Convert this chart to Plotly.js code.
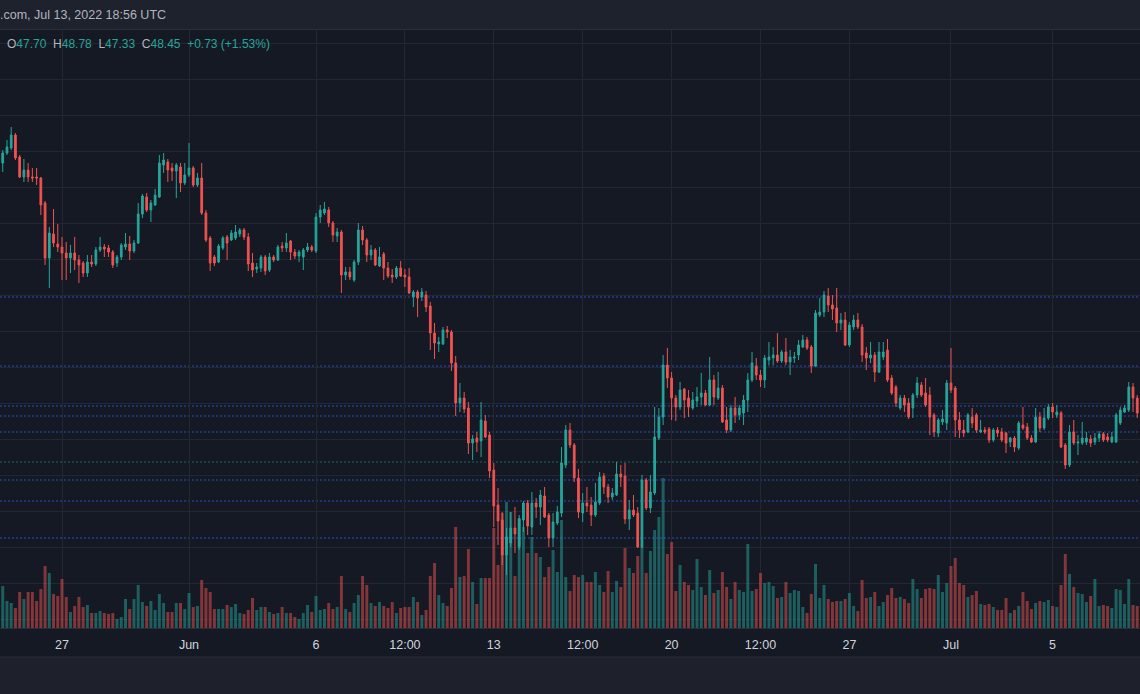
<!DOCTYPE html>
<html>
<head>
<meta charset="utf-8">
<script src="https://cdn.plot.ly/plotly-3.0.1.min.js"></script>
<style>
html,body{margin:0;padding:0;background:#151924;overflow:hidden;}
#chart{width:1140px;height:694px;}
</style>
</head>
<body>
<div id="chart"></div>
<script>
// ---- data (4-hour candles) ----
const startTime = '2022-05-24T12:00:00Z';
const stepHours = 4;

const open = [
84.5,83.7,84.7,85.2,86.5,84.3,82.3,83.0,82.3,82.3,
82.2,79.7,74.2,76.6,75.6,75.3,74.7,74.2,74.7,74.0,
73.7,72.7,73.8,73.6,75.0,75.3,75.2,74.8,73.7,74.3,
75.3,75.6,74.9,75.7,78.6,80.3,79.0,79.5,80.3,83.5,
83.8,83.2,82.9,83.3,81.7,82.5,83.2,81.5,82.2,78.7,
76.2,74.3,73.8,75.2,76.3,76.0,76.2,76.6,77.0,76.3,
73.7,73.1,73.2,74.3,73.0,74.3,74.0,75.4,75.2,75.9,
74.8,74.4,74.3,75.0,75.3,74.9,78.3,78.7,79.0,77.7,
76.4,76.8,72.5,72.8,72.0,73.8,77.0,76.0,74.5,75.0,
73.4,74.6,73.2,72.5,72.3,73.2,72.5,72.3,70.3,70.8,
70.3,70.5,69.4,66.7,65.6,65.6,67.0,66.8,63.7,59.7,
60.2,59.2,55.7,56.2,55.9,57.9,56.5,53.0,49.5,48.0,
44.5,45.7,47.2,45.3,48.0,49.7,47.3,49.7,49.3,50.4,
48.5,46.2,47.7,48.7,53.5,57.0,55.5,52.2,48.7,49.7,
49.5,48.5,49.7,52.4,51.3,50.3,50.5,52.6,52.4,48.1,
49.0,48.7,45.3,52.0,49.2,50.7,56.2,58.3,63.5,62.2,
60.2,59.3,61.1,60.2,59.2,59.9,60.3,60.7,59.5,62.0,
60.2,61.2,58.0,57.0,59.2,58.5,58.7,60.0,62.0,63.4,
62.5,62.0,64.0,64.2,64.5,63.9,64.8,63.8,64.2,64.5,
65.3,66.0,65.3,63.4,68.5,68.8,70.4,69.5,69.2,67.7,
68.0,65.5,67.3,68.0,67.3,64.7,64.2,64.5,62.8,64.3,
65.0,62.2,61.3,59.2,60.2,59.7,59.2,60.5,61.5,60.7,
60.5,58.5,56.7,57.8,57.7,61.7,61.2,58.0,57.0,56.8,
58.3,58.5,56.8,57.0,57.1,56.0,57.0,56.8,56.7,55.8,
56.2,55.2,57.5,57.3,56.2,55.8,58.3,57.2,58.2,59.3,
58.5,58.7,55.5,53.5,56.8,55.7,55.7,55.8,56.1,55.8,
56.2,56.6,56.3,55.8,55.8,57.7,58.8,59.0,61.3,60.2,
57.3];

const high = [
84.8,85.0,86.0,87.3,86.7,84.5,84.1,83.7,83.2,83.2,
82.3,79.9,77.3,79.1,77.6,76.3,75.8,75.5,76.3,74.5,
73.9,74.5,74.5,75.3,76.3,75.6,75.5,75.0,74.5,75.7,
76.7,76.4,76.0,79.7,80.6,80.7,80.0,81.1,84.5,84.7,
84.1,83.7,83.7,83.7,83.7,85.7,83.4,82.7,83.7,79.0,
76.4,74.5,75.6,76.4,76.5,77.0,77.5,77.2,77.2,76.7,
74.7,73.7,74.5,74.5,74.7,74.5,75.5,75.8,76.7,76.0,
75.1,75.0,75.2,75.7,75.5,78.7,79.5,79.8,79.3,77.9,
77.2,77.0,73.3,73.3,74.0,77.7,77.4,76.2,75.5,75.2,
75.3,74.8,73.8,73.1,73.4,73.9,73.1,73.2,71.0,71.0,
71.2,70.9,69.8,67.7,66.3,67.3,67.4,67.0,64.4,61.7,
60.8,59.8,56.5,56.8,59.8,58.5,56.8,53.7,51.2,48.8,
47.2,48.8,49.3,48.5,49.9,50.0,50.8,50.2,51.0,51.3,
48.7,48.7,49.4,55.3,57.5,57.7,55.7,53.1,50.7,51.3,
50.3,51.7,52.8,52.7,51.6,51.2,53.8,53.5,53.7,50.0,
50.5,49.3,52.5,52.2,52.5,59.3,59.2,64.5,65.2,62.8,
60.5,61.8,61.2,61.0,60.8,61.3,62.7,61.0,64.3,62.5,
62.8,61.5,59.3,59.5,60.3,59.5,60.5,62.7,64.8,64.2,
63.0,64.5,65.8,65.3,66.7,65.0,66.2,65.0,64.8,66.0,
66.5,66.3,65.5,69.0,70.2,70.9,71.2,70.5,71.2,68.7,
68.8,67.8,68.5,68.7,67.6,65.3,65.8,64.8,65.8,65.8,
66.1,62.5,61.5,60.5,60.5,60.2,60.7,62.3,61.8,62.2,
61.3,58.7,58.2,59.0,62.0,65.2,61.4,58.8,58.0,58.7,
59.2,58.7,58.0,57.3,57.3,57.2,57.3,57.2,56.8,56.3,
56.4,57.9,59.3,57.7,56.5,59.2,58.8,59.2,59.6,59.7,
59.5,58.9,55.7,57.5,58.0,56.5,57.8,56.8,56.5,56.7,
56.9,56.8,56.7,56.8,58.7,59.3,59.5,61.8,61.7,60.5,
59.7];

const low = [
83.5,82.8,84.5,85.0,84.0,82.2,81.8,81.8,81.8,81.5,
78.5,73.5,71.2,75.3,74.8,72.0,72.0,72.7,73.0,71.7,
72.3,72.3,73.3,73.4,74.8,74.3,74.3,73.2,73.3,74.0,
75.0,74.0,74.7,75.6,78.2,78.8,77.8,79.4,80.2,82.7,
81.8,81.9,80.2,80.8,81.5,82.3,81.3,81.3,78.5,75.8,
72.9,73.4,73.7,75.0,74.0,75.9,76.0,76.3,76.0,72.9,
72.3,72.7,72.8,72.5,72.8,73.8,73.9,74.8,74.8,74.0,
74.1,73.8,73.0,74.8,74.8,74.7,77.7,78.5,77.3,75.8,
75.8,70.7,72.0,72.0,71.8,73.5,75.5,73.8,74.0,73.4,
73.3,72.0,72.2,71.7,72.1,72.3,71.3,70.6,69.3,68.3,
69.9,68.8,65.0,64.1,64.8,65.5,66.2,62.9,58.4,58.8,
58.7,54.6,54.0,54.8,54.3,56.2,52.2,47.3,45.5,43.5,
42.5,45.3,44.7,45.0,46.8,46.5,46.5,48.2,47.5,48.2,
45.3,45.3,47.5,48.3,53.2,55.2,51.8,48.2,47.8,48.8,
47.4,48.3,49.5,50.6,49.7,50.0,50.4,51.3,47.6,47.0,
48.3,45.2,45.2,49.0,48.7,50.5,56.0,57.5,61.2,58.0,
57.9,59.0,58.2,58.3,59.0,59.3,59.5,59.4,59.4,59.5,
60.0,57.7,56.7,56.8,57.7,58.0,57.5,58.8,61.8,62.0,
61.3,61.2,63.5,63.5,63.7,63.7,63.5,62.5,63.7,64.0,
65.2,65.0,62.7,63.3,68.3,68.3,68.8,68.0,66.8,67.0,
65.4,65.3,67.0,67.1,63.8,63.0,63.7,61.8,62.7,64.0,
61.8,60.5,59.3,59.0,58.8,58.1,58.2,60.2,60.3,59.3,
56.5,56.3,56.3,57.5,57.0,60.7,56.3,56.2,56.3,56.7,
57.2,56.7,56.7,56.6,55.7,55.8,56.3,55.8,54.7,55.3,
54.8,55.0,57.0,56.0,55.7,55.7,56.8,57.0,58.0,58.2,
58.2,55.2,53.1,53.3,55.5,54.5,55.5,55.5,55.3,55.5,
55.8,55.8,55.8,55.7,55.7,57.5,58.7,58.8,58.8,58.2,
57.2];

const close = [
83.8,84.7,85.3,86.5,84.2,82.3,83.0,82.3,82.2,82.2,
79.5,74.2,76.7,75.7,75.3,74.7,74.2,74.7,74.0,73.5,
72.7,73.8,73.6,75.0,75.3,75.1,74.8,73.5,74.3,75.5,
75.6,74.9,75.7,78.6,80.4,79.0,79.7,80.5,83.7,84.0,
83.0,82.9,83.5,81.7,82.5,83.2,81.5,82.2,78.7,76.0,
73.7,73.7,75.4,76.2,75.7,76.7,76.8,77.0,76.3,73.6,
73.0,73.3,74.3,72.9,74.3,74.0,75.3,75.2,75.7,74.8,
74.4,74.8,75.0,75.3,75.0,78.3,79.0,79.1,77.7,76.5,
76.8,72.5,72.8,72.3,73.8,77.0,76.0,74.5,75.0,73.5,
74.3,73.2,72.4,72.3,73.2,72.4,72.3,70.7,70.8,70.2,
70.8,69.3,66.7,65.7,65.8,67.0,66.8,63.7,59.7,60.2,
59.1,55.7,56.1,55.8,58.0,56.3,52.9,49.4,47.9,44.5,
46.3,47.2,46.6,48.1,49.7,47.4,49.7,49.3,50.5,48.3,
46.2,47.8,48.8,53.7,57.0,55.5,52.2,48.8,49.7,49.4,
48.5,49.8,52.3,51.3,50.3,50.7,52.6,52.3,48.1,49.0,
48.5,45.3,52.0,49.2,50.8,56.3,58.3,63.5,62.2,60.2,
59.3,61.0,60.0,59.3,60.0,60.3,60.7,59.5,62.0,60.3,
61.2,57.8,57.0,59.2,58.5,59.2,60.0,62.0,63.7,62.5,
62.0,64.2,64.3,64.5,63.9,64.8,63.8,64.3,64.3,65.5,
66.0,65.2,63.4,68.7,68.8,70.5,69.5,69.1,67.7,68.0,
65.5,67.5,68.0,67.3,64.5,64.2,64.5,62.8,64.8,64.8,
62.0,60.7,59.7,60.2,59.5,58.3,60.5,61.7,60.5,59.5,
58.3,56.8,58.0,58.1,61.7,61.0,58.0,57.0,56.7,58.5,
57.7,57.0,57.0,56.8,56.0,57.0,56.7,56.0,55.7,56.2,
55.3,57.7,57.2,56.2,55.8,58.3,57.2,58.2,59.3,58.8,
58.8,55.3,53.5,56.8,55.7,55.8,56.2,56.2,55.7,56.2,
56.6,56.0,56.0,56.3,58.5,59.0,59.2,61.3,60.2,58.7,
59.5];

const volume = [
71,42,27,25,20,36,29,36,36,27,
39,62,55,34,32,49,31,16,22,31,
21,23,15,15,17,15,14,15,9,11,
29,19,29,43,26,22,27,18,34,25,
16,16,25,25,19,35,21,22,48,40,
36,19,19,19,23,21,24,15,14,18,
30,18,21,21,16,14,15,21,15,15,
11,9,15,23,16,32,18,19,25,19,
21,52,19,16,25,33,52,43,25,22,
26,22,20,26,15,20,21,21,31,26,
13,18,52,65,33,25,22,40,101,51,
52,79,46,24,50,50,50,100,63,115,
126,116,52,110,101,75,91,75,71,51,
61,78,56,108,51,37,53,51,53,46,
46,56,43,36,57,36,47,41,80,60,
55,72,81,55,77,98,111,150,74,86,
37,63,46,43,38,69,41,33,58,35,
38,56,41,29,46,38,36,84,37,39,
55,45,46,42,30,31,46,35,38,37,
21,15,34,64,30,43,29,26,27,27,
29,35,22,17,48,30,31,36,22,26,
33,40,30,31,29,25,49,39,30,39,
40,39,53,36,45,62,70,45,43,31,
33,37,24,23,24,21,18,18,30,15,
18,22,36,27,19,25,27,26,28,22,
21,43,74,54,41,35,34,26,32,49,
22,23,22,20,39,38,24,49,23,22,
32];

const tickDates = ['2022-05-27','2022-06-01','2022-06-06','2022-06-09 12:00','2022-06-13',
  '2022-06-16 12:00','2022-06-20','2022-06-23 12:00','2022-06-27','2022-07-01','2022-07-05'];
const tickLabels = ['27','Jun','6','12:00','13','12:00','20','12:00','27','Jul','5'];

const blueLevels = [70.3, 63.4, 59.4, 58.4, 56.8, 52.0, 49.9, 46.2];
const tealLevels = [53.8];

const headerText = '.com, Jul 13, 2022 18:56 UTC';
const lastO = '47.70', lastH = '48.78', lastL = '47.33', lastC = '48.45';
const lastChange = '+0.73 (+1.53%)';

// ---- build ----
const t0 = Date.parse(startTime);
function fmt(ms){
  const d = new Date(ms);
  const p = n => String(n).padStart(2,'0');
  return d.getUTCFullYear()+'-'+p(d.getUTCMonth()+1)+'-'+p(d.getUTCDate())+' '+p(d.getUTCHours())+':'+p(d.getUTCMinutes());
}
const times = open.map((_, i) => fmt(t0 + i * stepHours * 3600000));
const volColors = close.map((c, i) => c >= open[i] ? 'rgba(38,166,154,0.5)' : 'rgba(239,83,80,0.5)');

const UP = '#26a69a', DOWN = '#ef5350';
const PLOT_H = 598;

const volTrace = {
  type: 'bar', x: times, y: volume, xaxis: 'x', yaxis: 'y',
  marker: {color: volColors, line: {width: 0}}, hoverinfo: 'skip'
};
const candleTrace = {
  type: 'candlestick', x: times, open: open, high: high, low: low, close: close,
  xaxis: 'x', yaxis: 'y2',
  increasing: {line: {color: UP, width: 1}, fillcolor: UP},
  decreasing: {line: {color: DOWN, width: 1}, fillcolor: DOWN},
  whiskerwidth: 0, hoverinfo: 'skip'
};

const shapes = [];
// header strip
shapes.push({type:'rect', xref:'paper', yref:'paper', x0:0, x1:1, y0:1, y1:1 + 31/PLOT_H,
  fillcolor:'#1e222d', line:{width:0}, layer:'below'});
shapes.push({type:'line', xref:'paper', yref:'paper', x0:0, x1:1, y0:1 + 0.5/PLOT_H, y1:1 + 0.5/PLOT_H,
  line:{color:'#2a2e39', width:1}, layer:'below'});
// bottom strip
shapes.push({type:'rect', xref:'paper', yref:'paper', x0:0, x1:1, y0:-29/PLOT_H, y1:-70/PLOT_H,
  fillcolor:'#1e212b', line:{width:0}, layer:'below'});
shapes.push({type:'line', xref:'paper', yref:'paper', x0:0, x1:1, y0:-29/PLOT_H, y1:-29/PLOT_H,
  line:{color:'#2a2e39', width:1}, layer:'below'});
blueLevels.forEach(v => shapes.push({type:'line', xref:'paper', yref:'y2', x0:0, x1:1, y0:v, y1:v,
  line:{color:'rgba(41,98,255,0.75)', width:1, dash:'2px,2px'}, layer:'below'}));
tealLevels.forEach(v => shapes.push({type:'line', xref:'paper', yref:'y2', x0:0, x1:1, y0:v, y1:v,
  line:{color:'rgba(38,166,154,0.55)', width:1, dash:'2px,2px'}, layer:'below'}));

const g = s => '<span style="color:' + UP + '">' + s + '</span>';
const sp = '&nbsp;&nbsp;';
const ohlcText = 'O' + g(lastO) + sp + 'H' + g(lastH) + sp + 'L' + g(lastL) + sp + 'C' + g(lastC) + sp + g(lastChange);

const FONT = 'Liberation Sans, Arial, sans-serif';
const annotations = [
  {text: headerText, xref:'paper', yref:'paper', x:0, y:1 + 15/PLOT_H, xanchor:'left', yanchor:'middle',
   showarrow:false, xshift:-2, font:{family:FONT, size:12.5, color:'#b2b5be'}},
  {text: ohlcText, xref:'paper', yref:'paper', x:0, y:(PLOT_H - 14)/PLOT_H, xanchor:'left', yanchor:'middle',
   showarrow:false, xshift:5, font:{family:FONT, size:12, color:'#b2b5be'}}
];

const layout = {
  width: 1140, height: 694,
  margin: {l:0, r:0, t:30, b:66, pad:0},
  paper_bgcolor: '#151924', plot_bgcolor: '#151924',
  showlegend: false, bargap: 0.3, boxgap: 0.42,
  font: {family: FONT, size: 12, color: '#b2b5be'},
  xaxis: {
    type:'date', range:['2022-05-24 13:25','2022-07-08 10:36'],
    rangeslider:{visible:false}, tickmode:'array', tickvals:tickDates, ticktext:tickLabels,
    showgrid:true, gridcolor:'#232733', gridwidth:1, ticks:'', showline:true,
    linecolor:'#2a2e39', linewidth:1, zeroline:false,
    tickfont:{family:FONT, size:12.5, color:'#d1d4dc'}, ticklabelstandoff:5
  },
  yaxis: {range:[0, PLOT_H], visible:false, showgrid:false, zeroline:false},
  yaxis2: {range:[37.2, 97], overlaying:'y', side:'right', showticklabels:false, ticks:'',
    showgrid:true, gridcolor:'#232733', gridwidth:1, tickmode:'linear', tick0:95.7, dtick:3.6,
    zeroline:false, showline:false},
  shapes: shapes,
  annotations: annotations
};

Plotly.newPlot('chart', [volTrace, candleTrace], layout, {displayModeBar:false, staticPlot:true});
</script>
</body>
</html>
